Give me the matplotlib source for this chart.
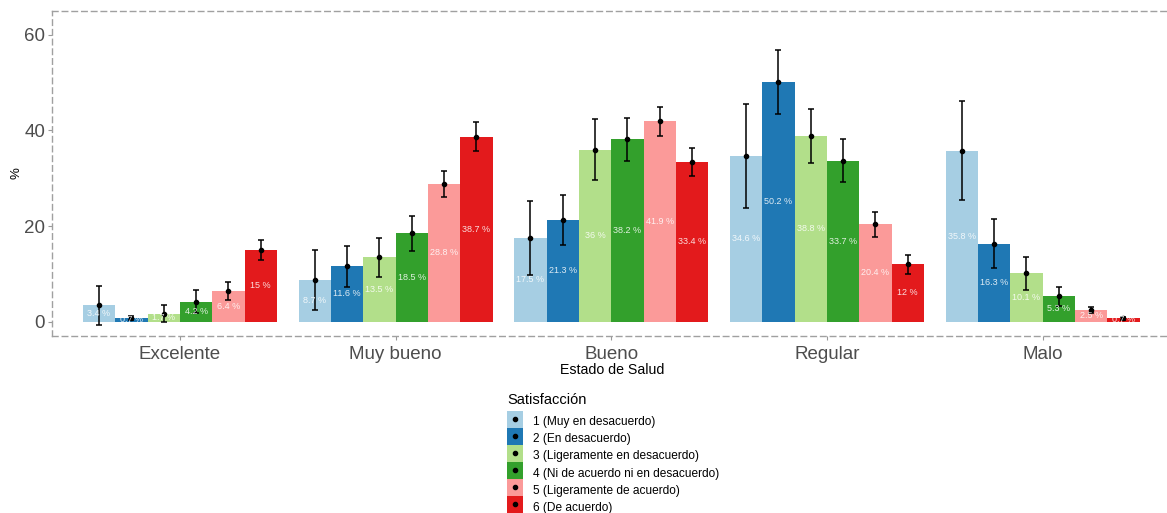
import numpy as np
from matplotlib import pyplot as plt
from matplotlib.patches import Rectangle
from matplotlib.lines import Line2D
from matplotlib.legend_handler import HandlerTuple, HandlerPatch

plt.rcParams['font.family'] = ['Liberation Sans', 'DejaVu Sans']

# datos
estados = ['Excelente', 'Muy bueno', 'Bueno', 'Regular', 'Malo']
niveles = ['1 (Muy en desacuerdo)', '2 (En desacuerdo)', '3 (Ligeramente en desacuerdo)',
           '4 (Ni de acuerdo ni en desacuerdo)', '5 (Ligeramente de acuerdo)', '6 (De acuerdo)']
colores = ['#A6CEE3', '#1F78B4', '#B2DF8A', '#33A02C', '#FB9A99', '#E31A1C']

excelente = [3.4, 0.7, 1.7, 4.2, 6.4, 15]
muy_bueno = [8.7, 11.6, 13.5, 18.5, 28.8, 38.7]
bueno = [17.5, 21.3, 36, 38.2, 41.9, 33.4]
regular = [34.6, 50.2, 38.8, 33.7, 20.4, 12]
malo = [35.8, 16.3, 10.1, 5.3, 2.5, 0.7]

# semiamplitud de los intervalos
err_excelente = [4.0, 0.4, 1.7, 2.4, 1.9, 2.1]
err_muy_bueno = [6.2, 4.3, 4.1, 3.7, 2.7, 3.0]
err_bueno = [7.8, 5.3, 6.3, 4.5, 3.1, 2.9]
err_regular = [10.9, 6.7, 5.7, 4.5, 2.6, 2.0]
err_malo = [10.3, 5.1, 3.5, 2.0, 0.6, 0.3]

valores = np.array([excelente, muy_bueno, bueno, regular, malo])
errores = np.array([err_excelente, err_muy_bueno, err_bueno, err_regular, err_malo])

fig = plt.figure(figsize=(11.67, 5.13), dpi=100)
ax = fig.add_axes([52/1167, 1-336/513, 1120/1167, 325/513])

x = np.arange(1, len(estados)+1)
w = 0.15
for i in range(len(niveles)):
    xi = x + (i-2.5)*w
    ax.bar(xi, valores[:, i], w, color=colores[i], zorder=2)
    ax.errorbar(xi, valores[:, i], yerr=errores[:, i], fmt='none', ecolor='black',
                elinewidth=1.1, capsize=2.2, capthick=1.1, zorder=3)
    ax.plot(xi, valores[:, i], 'o', color='black', ms=3, zorder=4)
    for xx, v in zip(xi, valores[:, i]):
        ax.text(xx, v/2, '%g %%' % v, color='white', alpha=0.85, fontsize=6.5,
                ha='center', va='center', zorder=5)

ax.set_xlim(0.407, 5.6)
ax.set_ylim(-3, 65)
ax.set_yticks([0, 20, 40, 60])
ax.set_xticks(x)
ax.set_xticklabels(estados)
ax.tick_params(axis='both', length=3, width=0.8, color='#999999', labelcolor='#4D4D4D',
               labelsize=13.5, pad=2)
ax.tick_params(axis='x', pad=4)

for s in ['left', 'top', 'bottom']:
    ax.spines[s].set_linestyle((0, (4, 3)))
    ax.spines[s].set_color('#A0A0A0')
    ax.spines[s].set_linewidth(1)
ax.spines['right'].set_visible(False)

ax.set_xlabel('Estado de Salud', fontsize=10.2, labelpad=0)
ax.set_ylabel('%', fontsize=9.5, labelpad=1)

# leyenda: cuadro de color con el punto centrado
def caja(legend, orig_handle, xdescent, ydescent, width, height, fontsize):
    yc = (height - ydescent) / 2
    return Rectangle((-xdescent, yc - height/2), width, height)

handles = [(Rectangle((0, 0), 1, 1, facecolor=c),
            Line2D([], [], marker='o', color='black', ls='none', ms=3)) for c in colores]
fig.text(507/1167, 1-400/513, 'Satisfacción', fontsize=10.5, va='center', ha='left')
leg = fig.legend(handles, niveles, loc='upper left',
                 bbox_to_anchor=(507/1167, 1-413/513), frameon=False,
                 handler_map={tuple: HandlerTuple(ndivide=1), Rectangle: HandlerPatch(patch_func=caja)},
                 fontsize=8.6, handlelength=1.34, handleheight=1.82,
                 labelspacing=0.0, handletextpad=0.85, borderaxespad=0, borderpad=0)

fig.savefig('out.png', dpi=100)
